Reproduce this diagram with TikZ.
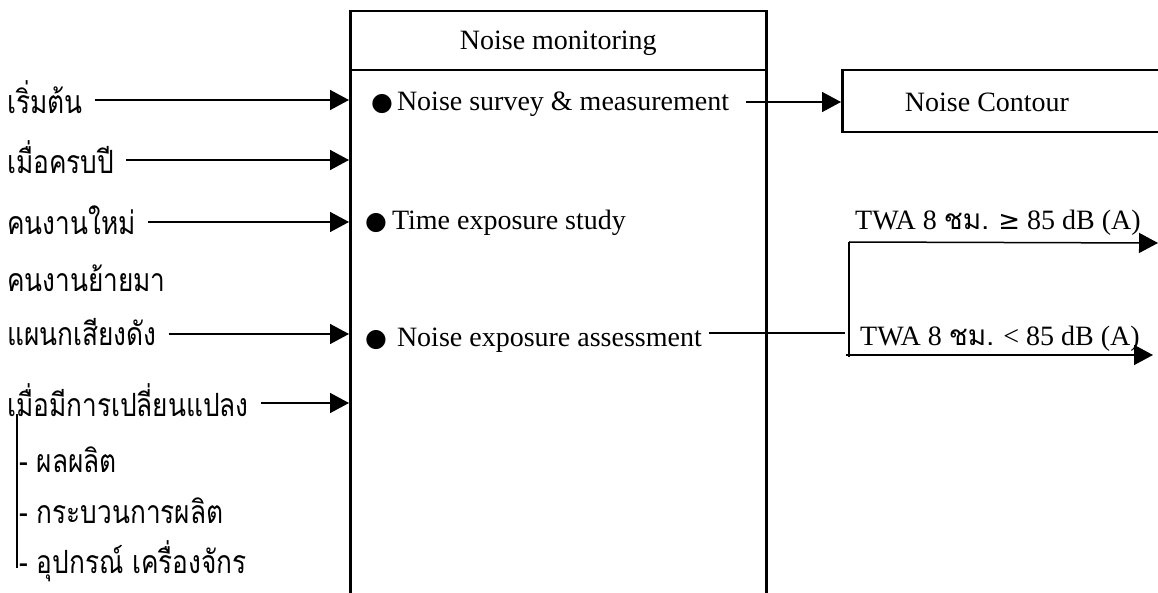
\documentclass[tikz,border=0pt]{standalone}
\usepackage{fontspec}
\setmainfont{Liberation Serif}
\newfontfamily\thai[Script=Thai,FakeStretch=0.82]{Loma}
\newfontfamily\thaism[Script=Thai]{Loma}
\newfontfamily\sym{DejaVu Sans}
\usetikzlibrary{arrows.meta}
\newcommand{\bul}{{\sym\fontsize{25}{29}\selectfont ●}}
\begin{document}
\begin{tikzpicture}[x=1pt,y=-1pt,
  every node/.style={inner sep=3pt},
  lat/.style={font=\fontsize{28}{33}\selectfont},
  th/.style={font=\thai\fontsize{32}{38}\selectfont, anchor=west},
  item/.style={lat, anchor=west},
  boxline/.style={draw, line width=2.5pt},
  arr/.style={line width=1.5pt, -{Triangle[length=19pt,width=20pt]}},
  plain/.style={line width=1.5pt}
]
\clip (0,0) rectangle (1158,593);
\fill[white] (0,0) rectangle (1158,593);
% main box
\node[boxline, anchor=north west, minimum width=416pt, minimum height=59pt, inner sep=0pt] (head) at (349,10) {};
\node[lat] (htext) at (head.center) [yshift=-3pt] {Noise monitoring};
\node[boxline, anchor=north west, minimum width=416pt, minimum height=560pt, inner sep=0pt] (body) at (349,69) {};
% contour box
\node[boxline, anchor=north west, minimum width=340pt, minimum height=62pt, inner sep=0pt] (contour) at (841,69) {};
\node[lat] (ctext) at (987,102) {Noise Contour};
% left labels
\node[th] (l1) at (4,97) {เริ่มต้น};
\node[th] (l2) at (4,157) {เมื่อครบปี};
\node[th] (l3) at (4,220) {คนงานใหม่};
\node[th] (l4) at (4,278) {คนงานย้ายมา};
\node[th] (l5) at (4,332) {แผนกเสียงดัง};
\node[th] (l6) at (4,400) {เมื่อมีการเปลี่ยนแปลง};
\node[th] (l7) at (16,460) {- ผลผลิต};
\node[th] (l8) at (16,511) {- กระบวนการผลิต};
\node[th] (l9) at (16,561) {- อุปกรณ์ เครื่องจักร};
\coordinate (vtop) at (17,414);
\coordinate (vbot) at (17,568);
\draw[plain] (vtop) -- (vbot);
% arrows in
\coordinate (a1) at (0,100);
\coordinate (a2) at (0,160);
\coordinate (a3) at (0,222);
\coordinate (a5) at (0,334);
\coordinate (a6) at (0,403);
\foreach \n/\a in {l1/a1,l2/a2,l3/a3,l5/a5,l6/a6}
  \draw[arr] ([xshift=9pt]\n.east |- \a) -- (body.west |- \a);
% items
\node[item] (i1) at (368,104) {\bul\hspace{4pt}Noise survey \& measurement};
\node[item] (i2) at (362,223) {\bul\hspace{5pt}Time exposure study};
\node[item] (i3) at (362,340) {\bul\hspace{10pt}Noise exposure assessment};
\coordinate (c1) at (0,102);
\draw[arr] ([xshift=14pt]i1.east |- c1) -- (contour.west |- c1);
% split
\coordinate (j) at (849,333);
\coordinate (jt) at (849,242);
\coordinate (jb) at (849,357);
\coordinate (t1) at (1158,243);
\coordinate (t2) at (1153,355);
\draw[plain] ([xshift=4pt]i3.east |- j) -- ([xshift=-4pt]j);
\draw[plain] (jt) -- (jb);
\draw[arr] (jt) -- (t1);
\draw[arr] ([xshift=-3pt]jb |- t2) -- (t2);
\node[lat, anchor=west] (w1) at (852,223) {TWA 8 {\thaism ชม.} {\sym\fontsize{26}{30}\selectfont ≥} 85 dB (A)};
\node[lat, anchor=west] (w2) at (857,339) {TWA 8 {\thaism ชม.} < 85 dB (A)};
\end{tikzpicture}
\end{document}
